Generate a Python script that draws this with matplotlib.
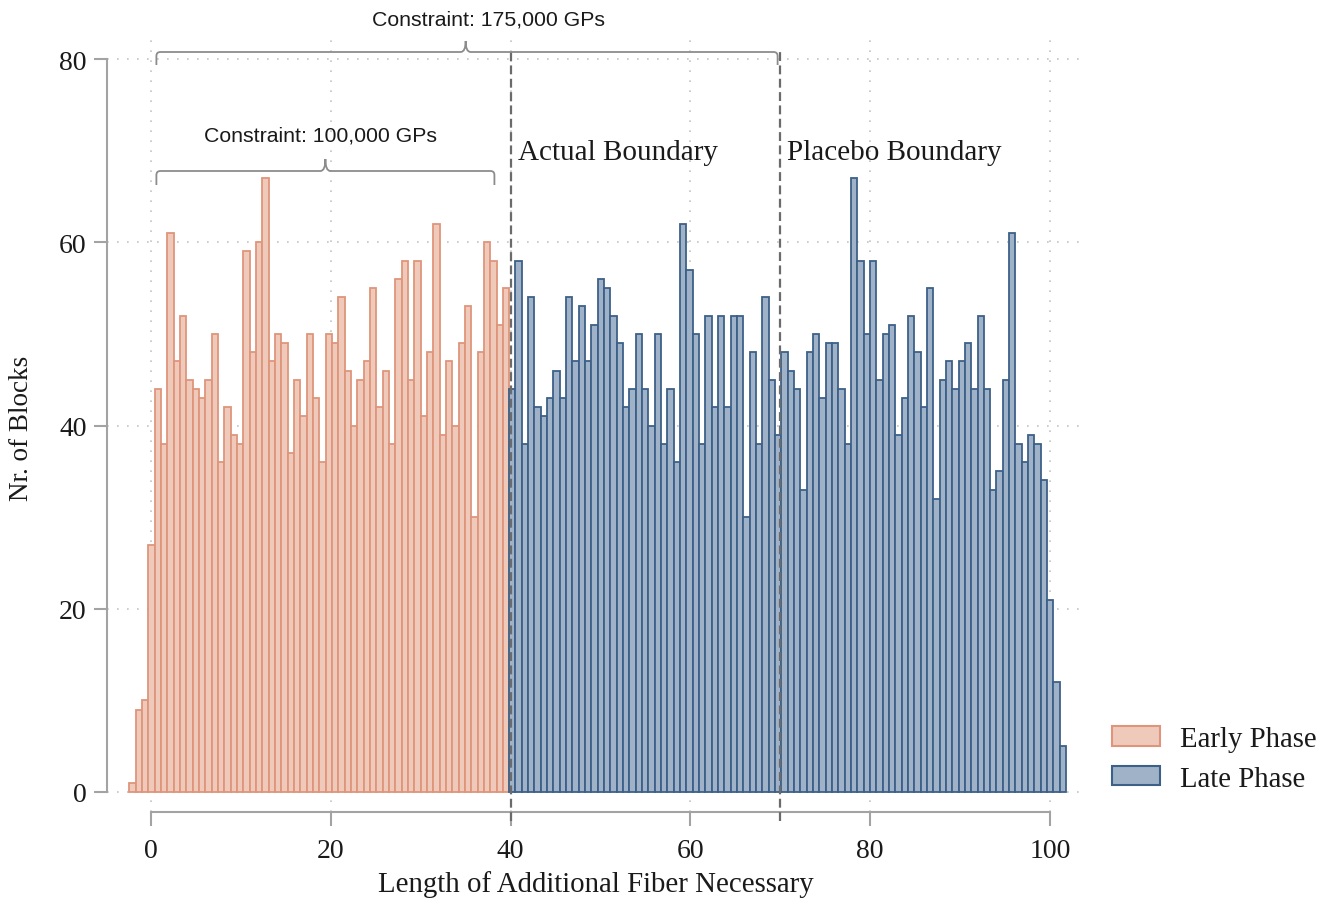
import numpy as np
import matplotlib
matplotlib.use("Agg")
import matplotlib.pyplot as plt
from matplotlib.patches import Patch, PathPatch
from matplotlib.path import Path

# ---------------- data ----------------
early_counts = [1, 9, 10, 27, 44, 38, 61, 47, 52, 45, 44, 43, 45, 50, 36, 42, 39, 38, 59, 48,
                60, 67, 47, 50, 49, 37, 45, 41, 50, 43, 36, 50, 49, 54, 46, 40, 45, 47, 55, 42,
                46, 38, 56, 58, 45, 58, 41, 48, 62, 39, 47, 40, 49, 53, 30, 48, 60, 58, 51, 55]
late_counts = [44, 58, 38, 54, 42, 41, 43, 46, 43, 54, 47, 53, 47, 51, 56, 55, 52, 49, 42, 44,
               50, 44, 40, 50, 38, 44, 36, 62, 57, 50, 38, 52, 42, 52, 42, 52, 52, 30, 48, 38,
               54, 45, 39, 48, 46, 44, 33, 48, 50, 43, 49, 49, 44, 38, 67, 58, 50, 58, 45, 50,
               51, 39, 43, 52, 48, 42, 55, 32, 45, 47, 44, 47, 49, 44, 52, 44, 33, 35, 45, 61,
               38, 36, 39, 38, 34, 21, 12, 5]
bin_start = -2.4
bin_width = 0.704
x_ticks = [0, 20, 40, 60, 80, 100]
y_ticks = [0, 20, 40, 60, 80]
actual_boundary = 40
placebo_boundary = 70
series_labels = ["Early Phase", "Late Phase"]

# ---------------- style ----------------
W, H = 1335, 904
SERIF = ["Liberation Serif", "DejaVu Serif"]
SANS = ["Liberation Sans", "DejaVu Sans"]
early_fill, early_edge = "#efcabb", "#de957b"
late_fill, late_edge = "#9fb2c7", "#3d6088"
axis_col = "#a3a3a3"
txt_col = "#1a1a1a"

fig = plt.figure(figsize=(W / 100, H / 100), dpi=100)
# pixel mapping: x=0 -> 151px, 8.99 px/unit ; y=0 -> 793px, 9.1625 px/unit
ax_l, ax_r, ax_t, ax_b = 107, 1085, 40, 813
ax = fig.add_axes([ax_l / W, 1 - ax_b / H, (ax_r - ax_l) / W, (ax_b - ax_t) / H])
ax.set_xlim((ax_l - 151) / 8.99, (ax_r - 151) / 8.99)
ax.set_ylim((793 - ax_b) / 9.1625, (793 - ax_t) / 9.1625)

n_e, n_l = len(early_counts), len(late_counts)
edges = bin_start + bin_width * np.arange(n_e + n_l)
ax.bar(edges[:n_e], early_counts, width=bin_width, align="edge",
       color=early_fill, edgecolor=early_edge, linewidth=1.3, zorder=2)
ax.bar(edges[n_e:], late_counts, width=bin_width, align="edge",
       color=late_fill, edgecolor=late_edge, linewidth=1.3, zorder=2)

# grid
ax.set_xticks(x_ticks)
ax.set_yticks(y_ticks)
ax.grid(True, linestyle=(0, (1, 5)), color="#c4c4c4", linewidth=1.2, zorder=0)
ax.set_axisbelow(True)

# spines
for s in ["top", "right"]:
    ax.spines[s].set_visible(False)
ax.spines["left"].set_bounds(0, 80)
ax.spines["bottom"].set_bounds(0, 100)
for s in ["left", "bottom"]:
    ax.spines[s].set_color(axis_col)
    ax.spines[s].set_linewidth(1.5)
ax.tick_params(axis="y", length=9.5, width=1.5, color=axis_col, pad=5, labelsize=20,
               labelcolor=txt_col)
ax.tick_params(axis="x", length=10, width=1.5, color=axis_col, pad=9, labelsize=20,
               labelcolor=txt_col)
for lab in ax.get_xticklabels() + ax.get_yticklabels():
    lab.set_family(SERIF)

# boundaries
for xb in (actual_boundary, placebo_boundary):
    ax.plot([xb, xb], [(793 - 822) / 9.1625, (793 - 53) / 9.1625], color="#6b6b6b",
            linestyle=(0, (4, 2)), linewidth=1.6, clip_on=False, zorder=3)

ax.text(actual_boundary + 0.85, (793 - 153) / 9.1625, "Actual Boundary", family=SERIF,
        fontsize=21, color=txt_col, va="center", ha="left")
ax.text(placebo_boundary + 0.75, (793 - 153) / 9.1625, "Placebo Boundary", family=SERIF,
        fontsize=21, color=txt_col, va="center", ha="left")


# braces
def brace(xl, xr, xm, ypx, drop_px=13, tip_px=11):
    y = (793 - ypx) / 9.1625
    d = drop_px / 9.1625
    t = tip_px / 9.1625
    rx = 4 / 8.99
    ry = 4 / 9.1625
    mx = 5 / 8.99
    verts = [(xl, y - d), (xl, y - ry), (xl, y), (xl + rx, y),
             (xm - mx, y), (xm, y), (xm, y + t),
             (xm, y), (xm + mx, y),
             (xr - rx, y), (xr, y), (xr, y - ry), (xr, y - d)]
    codes = [Path.MOVETO, Path.LINETO, Path.CURVE3, Path.CURVE3,
             Path.LINETO, Path.CURVE3, Path.CURVE3,
             Path.CURVE3, Path.CURVE3,
             Path.LINETO, Path.CURVE3, Path.CURVE3, Path.LINETO]
    pp = PathPatch(Path(verts, codes), facecolor="none", edgecolor="#8c8c8c",
                   linewidth=1.3, clip_on=False, zorder=3)
    ax.add_patch(pp)


brace(0.6, 69.7, 35.0, 53)
brace(0.6, 38.2, 19.4, 172, drop_px=14, tip_px=12)
ax.text((489 - 151) / 8.99, (793 - 20) / 9.1625, "Constraint: 175,000 GPs", family=SANS,
        fontsize=15.3, color=txt_col, ha="center", va="center")
ax.text((320 - 151) / 8.99, (793 - 136) / 9.1625, "Constraint: 100,000 GPs", family=SANS,
        fontsize=15.3, color=txt_col, ha="center", va="center")

# axis titles
fig.text(596 / W, 1 - 885 / H, "Length of Additional Fiber Necessary", family=SERIF,
         fontsize=20.8, color=txt_col, ha="center", va="center")
fig.text(22 / W, 1 - 428 / H, "Nr. of Blocks", family=SERIF, fontsize=19.5, color=txt_col,
         ha="center", va="center", rotation=90)

# legend
handles = [Patch(facecolor=early_fill, edgecolor=early_edge, linewidth=1.5, label=series_labels[0]),
           Patch(facecolor=late_fill, edgecolor=late_edge, linewidth=1.5, label=series_labels[1])]
fig.legend(handles=handles, loc="upper left", bbox_to_anchor=(1112 / W, 1 - 727 / H),
           frameon=False, borderpad=0, borderaxespad=0, handlelength=1.67, handleheight=0.66,
           handletextpad=0.7, labelspacing=0.48, prop={"family": SERIF, "size": 20.7},
           labelcolor=txt_col)

fig.savefig("out.png", dpi=100)
